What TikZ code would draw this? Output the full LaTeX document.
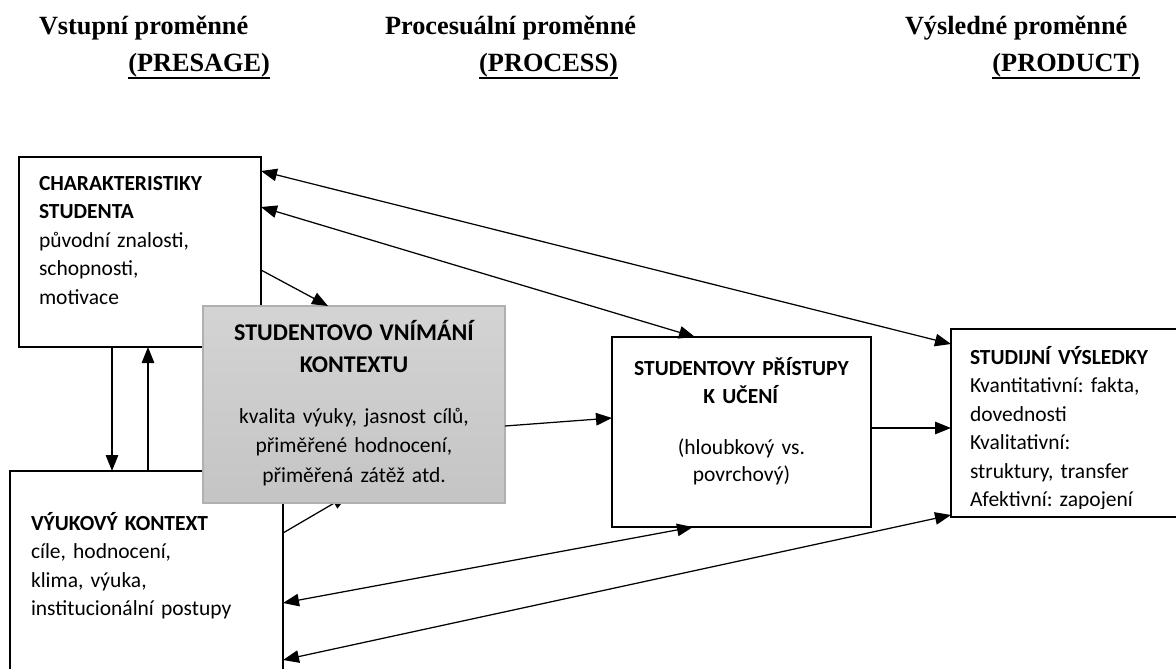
\documentclass[tikz,border=0pt]{standalone}
\usepackage{fontspec}
\setmainfont{Carlito}
\newfontfamily\headfont{Liberation Serif}
\usetikzlibrary{arrows.meta}
\newcommand{\titlefont}{\fontsize{24}{28.5}\selectfont\bfseries}
\frenchspacing

\begin{document}
\begin{tikzpicture}[x=1pt,y=-1pt,
  every node/.style={inner sep=0pt, outer sep=0pt},
  stage/.style={draw, line width=2pt, anchor=north west, inner ysep=0pt,
    align=left, font=\fontsize{21.5}{28.5}\selectfont},
  head/.style={font=\headfont\bfseries\fontsize{26.3}{30}\selectfont},
  rule/.style={line width=1.8pt},
  link/.style={-{Triangle[length=16pt,width=12.5pt]}, line width=1.25pt},
  twoway/.style={{Triangle[length=16pt,width=12.5pt]}-{Triangle[length=16pt,width=12.5pt]}, line width=1.25pt}]
\useasboundingbox (0,0) rectangle (1176,669);

% column headings
\node[head, anchor=base west] (vstup) at (39,35) {Vstupní proměnné};
\node[head, anchor=base east] (presage) at (270,71) {(PRESAGE)};
\node[head, anchor=base west] (proces) at (385,35) {Procesuální proměnné};
\node[head, anchor=base east] (process) at (618,71) {(PROCESS)};
\node[head, anchor=base west] (vysl) at (905,35) {Výsledné proměnné};
\node[head, anchor=base east] (product) at (1140,71) {(PRODUCT)};
\foreach \h in {presage,process,product}
  \draw[rule] ([yshift=-1.5pt]\h.south west) -- ([yshift=-1.5pt]\h.south east);

% presage boxes
\node[stage, inner xsep=20pt, text width=202pt, text height=33pt, text depth=157pt] (charakt) at (19,157)
  {\textbf{CHARAKTERISTIKY}\\ \textbf{STUDENTA}\\ původní znalosti,\\ schopnosti,\\ motivace};
\node[stage, inner xsep=21pt, text width=231pt, text height=59pt, text depth=181pt] (kontext) at (10,471)
  {\textbf{VÝUKOVÝ KONTEXT}\\ cíle, hodnocení,\\ klima, výuka,\\ institucionální postupy};

% arrow hidden under the grey box
\coordinate (skryty) at (348,495);
\draw[link] ([yshift=-62pt]kontext.north east) -- (skryty);

\node[stage, draw=gray!62, line width=1.2pt, top color=gray!34, bottom color=gray!46, align=center,
  inner xsep=10pt, text width=282pt, text height=34pt, text depth=163pt] (vnimani) at (203,306)
  {{\titlefont STUDENTOVO VNÍMÁNÍ}\\[3.5pt] {\titlefont KONTEXTU}\\[22.5pt]
   kvalita výuky, jasnost cílů,\\[1pt] přiměřené hodnocení,\\[1pt] přiměřená zátěž atd.};

\draw[link] ([yshift=-113pt]charakt.north east) -- ([xshift=125pt]vnimani.north west);
\draw[link] ([xshift=93pt]charakt.south west) -- ([xshift=102pt]kontext.north west);
\draw[link] ([xshift=138pt]kontext.north west) -- ([xshift=129pt]charakt.south west);

% process
\node[stage, align=center, inner xsep=10pt, text width=239pt, text height=38pt, text depth=152pt] (pristupy) at (612,337)
  {\textbf{STUDENTOVY PŘÍSTUPY}\\ \textbf{K UČENÍ}\\[22.5pt] (hloubkový vs.\\[-1.5pt] povrchový)};

% product (last line cut by the frame)
\begin{scope}
\clip (940,320) rectangle (1200,508);
\node[stage, draw=none, inner xsep=19pt, text width=222pt, text height=35pt, text depth=153pt] (vysledky) at (951,329)
  {\textbf{STUDIJNÍ VÝSLEDKY}\\ Kvantitativní: fakta,\\ dovednosti\\ Kvalitativní:\\ struktury, transfer\\ Afektivní: zapojení};
\end{scope}
\draw[line width=2pt] (vysledky.north west) rectangle (vysledky.south east);

\draw[link] ([yshift=-120pt]vnimani.north east) -- ([yshift=-81pt]pristupy.north west);
\draw[link] ([yshift=-91pt]pristupy.north east) -- ([yshift=-99pt]vysledky.north west);
\draw[twoway] ([yshift=-14pt]charakt.north east) -- ([yshift=-15pt]vysledky.north west);
\draw[twoway] ([yshift=-50pt]charakt.north east) -- ([xshift=83pt]pristupy.north west);
\draw[twoway] ([yshift=-132pt]kontext.north east) -- ([xshift=81pt]pristupy.south west);
\draw[twoway] ([yshift=-189pt]kontext.north east) -- ([yshift=2pt]vysledky.south west);
\end{tikzpicture}
\end{document}
